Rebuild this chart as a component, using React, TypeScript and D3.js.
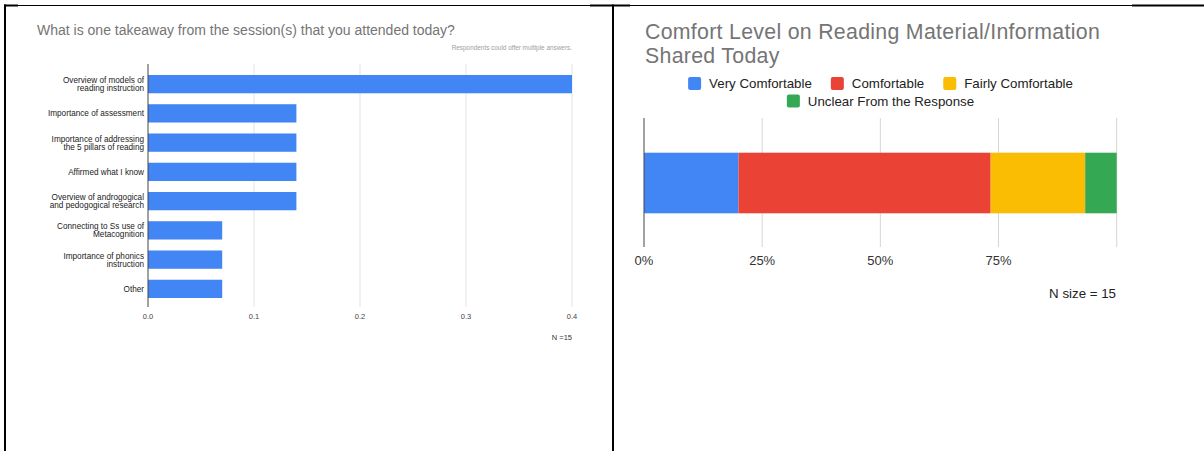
import React from "react";
import * as d3 from "d3";

const takeawayCategories = [
  "Overview of models of\nreading instruction",
  "Importance of assessment",
  "Importance of addressing\nthe 5 pillars of reading",
  "Affirmed what I know",
  "Overview of androgogical\nand pedogogical research",
  "Connecting to Ss use of\nMetacognition",
  "Importance of phonics\ninstruction",
  "Other",
];
const takeawayValues = [0.4, 0.14, 0.14, 0.14, 0.14, 0.07, 0.07, 0.07];
const takeawayTicks = [0, 0.1, 0.2, 0.3, 0.4];

const comfortTitle = ["Comfort Level on Reading Material/Information", "Shared Today"];
const comfortLevels = ["Very Comfortable", "Comfortable", "Fairly Comfortable", "Unclear From the Response"];
const comfortCounts = [3, 8, 3, 1];
const comfortColors = ["#4285F4", "#EA4335", "#FBBC04", "#34A853"];
const comfortTicks = [0, 0.25, 0.5, 0.75, 1];
const comfortTickLabels = ["0%", "25%", "50%", "75%"];

const FONT = "'Liberation Sans', Arial, Helvetica, sans-serif";

function measure(text: string, size: number) {
  const c = document.createElement("canvas");
  const ctx = c.getContext("2d");
  if (!ctx) return text.length * size * 0.5;
  ctx.font = `${size}px ${FONT}`;
  return ctx.measureText(text).width;
}

export default function App() {
  // Left chart scales
  const xL = d3.scaleLinear().domain([0, 0.4]).range([148, 572]);
  const yL = d3
    .scaleBand<string>()
    .domain(takeawayCategories)
    .range([69.5, 303.5])
    .paddingInner(0.375)
    .paddingOuter(0.1875);

  // Right chart scales
  const total = d3.sum(comfortCounts);
  const xR = d3.scaleLinear().domain([0, 1]).range([644, 1116.7]);
  const cum = d3.cumsum(comfortCounts).map((v) => v / total);
  const segs = comfortCounts.map((c, i) => ({
    x0: i === 0 ? 0 : cum[i - 1],
    x1: cum[i],
    color: comfortColors[i],
  }));

  // Legend layout
  const legSize = 13;
  const legFont = 13.3;
  const rows = [[0, 1, 2], [3]];
  const legendItems: { x: number; y: number; i: number }[] = [];
  rows.forEach((row, r) => {
    const widths = row.map((i) => legSize + 8 + measure(comfortLevels[i], legFont));
    const totalW = d3.sum(widths) + 19 * (row.length - 1);
    let x = 880.5 - totalW / 2;
    row.forEach((i, k) => {
      legendItems.push({ x, y: 77 + r * 17.5, i });
      x += widths[k] + 19;
    });
  });

  return (
    <svg
      width={1204}
      height={451}
      style={{ position: "absolute", left: 0, top: 0, background: "#fff" }}
      fontFamily={FONT}
    >
      <rect x={0} y={0} width={1204} height={451} fill="#fff" />
      {/* table borders */}
      <line x1={4} x2={1204} y1={5.5} y2={5.5} stroke="#000" strokeWidth={1} />
      <line x1={4} x2={18} y1={5.5} y2={5.5} stroke="#000" strokeWidth={2} />
      <line x1={590} x2={630} y1={5.5} y2={5.5} stroke="#000" strokeWidth={2} />
      <line x1={1132} x2={1204} y1={5.5} y2={5.5} stroke="#000" strokeWidth={2} />
      <line x1={5} x2={5} y1={4.5} y2={451} stroke="#000" strokeWidth={2} />
      <line x1={613} x2={613} y1={4.5} y2={451} stroke="#000" strokeWidth={2} />

      {/* LEFT CHART */}
      <text x={37} y={35} fontSize={14} fill="#757575">
        What is one takeaway from the session(s) that you attended today?
      </text>
      <text x={572} y={50} fontSize={6.4} fill="#9e9e9e" textAnchor="end">
        Respondents could offer multiple answers.
      </text>
      {takeawayTicks.map((t) => (
        <g key={t}>
          {t !== 0 && (
            <line x1={xL(t)} x2={xL(t)} y1={64} y2={307} stroke="#e3e3e3" strokeWidth={1} />
          )}
          <text x={xL(t)} y={319} fontSize={7.5} fill="#444" textAnchor="middle">
            {d3.format(".1f")(t)}
          </text>
        </g>
      ))}
      {takeawayCategories.map((c, i) => (
        <rect
          key={c}
          x={xL(0)}
          y={yL(c)!}
          width={xL(takeawayValues[i]) - xL(0)}
          height={yL.bandwidth()}
          fill="#4285F4"
        />
      ))}
      <line x1={xL(0)} x2={xL(0)} y1={64} y2={307} stroke="#444" strokeWidth={1} />
      {takeawayCategories.map((c) => {
        const lines = c.split("\n");
        const cy = yL(c)! + yL.bandwidth() / 2;
        return (
          <text key={c} x={144} fontSize={8.2} fill="#222" textAnchor="end">
            {lines.map((l, k) => (
              <tspan key={k} x={144} y={cy + 3 + (k - (lines.length - 1) / 2) * 8.2}>
                {l}
              </tspan>
            ))}
          </text>
        );
      })}
      <text x={572} y={340} fontSize={7.5} fill="#333" textAnchor="end">
        N =15
      </text>

      {/* RIGHT CHART */}
      <text x={645} fontSize={21.3} fill="#757575" letterSpacing={0.3}>
        {comfortTitle.map((t, k) => (
          <tspan key={k} x={645} y={38.5 + k * 24.6}>
            {t}
          </tspan>
        ))}
      </text>
      {legendItems.map(({ x, y, i }) => (
        <g key={i}>
          <rect x={x} y={y} width={legSize} height={legSize} rx={2} fill={comfortColors[i]} />
          <text x={x + legSize + 8} y={y + 11} fontSize={legFont} fill="#222">
            {comfortLevels[i]}
          </text>
        </g>
      ))}
      {comfortTicks.map((t) =>
        t !== 0 ? (
          <line key={t} x1={xR(t)} x2={xR(t)} y1={118} y2={247} stroke="#d6d6d6" strokeWidth={1} />
        ) : null
      )}
      {segs.map((s, i) => (
        <rect
          key={i}
          x={xR(s.x0)}
          y={152.7}
          width={xR(s.x1) - xR(s.x0)}
          height={60.6}
          fill={s.color}
        />
      ))}
      <line x1={xR(0)} x2={xR(0)} y1={118} y2={247} stroke="#444" strokeWidth={1} />
      {comfortTickLabels.map((lbl, i) => (
        <text key={lbl} x={xR(comfortTicks[i])} y={265} fontSize={13} fill="#333" textAnchor="middle">
          {lbl}
        </text>
      ))}
      <text x={1116} y={298} fontSize={13.3} fill="#222" textAnchor="end">
        N size = 15
      </text>
    </svg>
  );
}
